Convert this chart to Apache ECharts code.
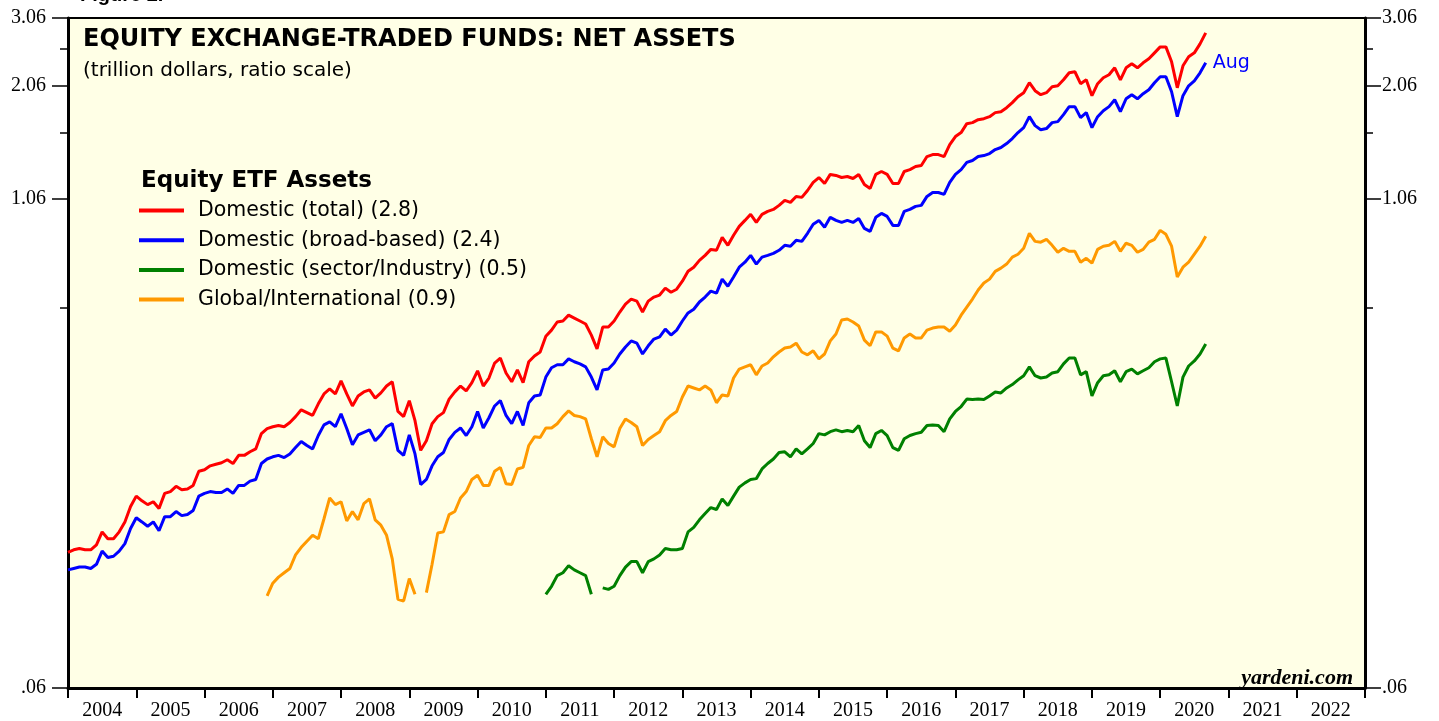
<!DOCTYPE html>
<html lang="en">
<head>
    <meta charset="UTF-8">
    <title>Equity ETF net assets</title>
    <style>
        html, body { margin: 0; padding: 0; background: #fff; }
    </style>
</head>
<body>
<div id="main" style="width: 1439px;height:721px;"></div>
<script src="https://cdn.jsdelivr.net/npm/echarts@6.0.0/dist/echarts.min.js"></script>
<script>
    // monthly, month-end values, first point = Dec 2003, last = Aug 2020 (trillion $)
    var firstMonth = 2004;          // Dec 2003 month-end sits on the 2004 boundary
    var years = [2004, 2005, 2006, 2007, 2008, 2009, 2010, 2011, 2012, 2013,
                 2014, 2015, 2016, 2017, 2018, 2019, 2020, 2021, 2022];
    var yLabels = [0.06, 1.06, 2.06, 3.06];
    var yMinorTicks = [0.56, 1.56, 2.56];

    var domesticTotal = [
        0.133,0.135,0.136,0.135,0.135,0.139,0.150,0.144,0.144,0.150,0.159,0.174,
        0.185,0.180,0.176,0.179,0.172,0.188,0.190,0.196,0.192,0.193,0.197,0.214,
        0.216,0.221,0.223,0.225,0.229,0.224,0.235,0.235,0.240,0.244,0.267,0.275,
        0.278,0.280,0.278,0.285,0.295,0.307,0.302,0.297,0.318,0.337,0.347,0.337,
        0.364,0.337,0.314,0.333,0.341,0.345,0.329,0.339,0.353,0.362,0.304,0.295,
        0.324,0.288,0.242,0.256,0.283,0.295,0.302,0.327,0.341,0.353,0.343,0.360,
        0.386,0.353,0.370,0.404,0.416,0.381,0.362,0.388,0.360,0.407,0.421,0.431,
        0.473,0.490,0.514,0.517,0.535,0.526,0.517,0.508,0.476,0.439,0.499,0.499,
        0.517,0.545,0.571,0.588,0.581,0.545,0.581,0.595,0.602,0.627,0.612,0.623,
        0.653,0.692,0.709,0.738,0.760,0.787,0.783,0.845,0.806,0.855,0.901,0.933,
        0.967,0.922,0.967,0.984,0.995,1.019,1.049,1.037,1.074,1.068,1.112,1.166,
        1.200,1.159,1.222,1.215,1.200,1.207,1.193,1.222,1.152,1.125,1.222,1.243,
        1.222,1.159,1.159,1.243,1.257,1.280,1.288,1.357,1.373,1.373,1.357,1.456,
        1.526,1.562,1.646,1.656,1.685,1.695,1.715,1.756,1.766,1.808,1.862,1.928,
        1.974,2.093,1.997,1.951,1.974,2.044,2.056,2.129,2.219,2.232,2.081,2.129,
        1.940,2.081,2.155,2.193,2.285,2.129,2.285,2.339,2.285,2.353,2.408,2.494,
        2.583,2.583,2.366,2.032,2.312,2.437,2.494,2.629,2.804
    ];
    var domesticBroad = [
        0.120,0.121,0.122,0.122,0.121,0.124,0.134,0.129,0.130,0.134,0.140,0.153,
        0.163,0.159,0.155,0.159,0.151,0.164,0.164,0.169,0.165,0.166,0.170,0.185,
        0.188,0.190,0.189,0.189,0.193,0.188,0.197,0.197,0.202,0.204,0.224,0.230,
        0.233,0.235,0.232,0.237,0.246,0.255,0.249,0.244,0.264,0.281,0.286,0.278,
        0.300,0.275,0.250,0.265,0.269,0.273,0.256,0.265,0.278,0.283,0.242,0.235,
        0.265,0.237,0.198,0.204,0.221,0.233,0.239,0.258,0.269,0.276,0.264,0.278,
        0.304,0.276,0.293,0.314,0.324,0.297,0.283,0.304,0.280,0.320,0.333,0.335,
        0.372,0.393,0.400,0.400,0.414,0.407,0.402,0.395,0.372,0.345,0.388,0.390,
        0.404,0.426,0.444,0.460,0.454,0.426,0.447,0.465,0.471,0.493,0.476,0.490,
        0.517,0.542,0.554,0.578,0.595,0.616,0.609,0.661,0.634,0.669,0.709,0.730,
        0.760,0.722,0.752,0.760,0.769,0.783,0.806,0.802,0.830,0.825,0.865,0.912,
        0.933,0.896,0.950,0.933,0.922,0.933,0.922,0.944,0.890,0.875,0.950,0.972,
        0.955,0.906,0.906,0.984,0.995,1.013,1.019,1.074,1.099,1.099,1.087,1.166,
        1.222,1.257,1.311,1.326,1.357,1.365,1.381,1.414,1.431,1.465,1.508,1.562,
        1.608,1.715,1.627,1.589,1.599,1.656,1.666,1.736,1.819,1.819,1.705,1.756,
        1.608,1.715,1.776,1.819,1.894,1.766,1.905,1.951,1.905,1.962,2.008,2.093,
        2.168,2.168,1.985,1.715,1.940,2.056,2.117,2.219,2.353
    ];
    // sector/industry starts Dec 2010, null = below the chart's floor
    var sectorStart = 84;
    var domesticSector = [
        0.104,0.109,0.116,0.118,0.123,0.120,0.118,0.116,0.104,null,0.108,0.107,
        0.109,0.116,0.122,0.126,0.126,0.118,0.126,0.128,0.131,0.136,0.135,0.135,
        0.136,0.150,0.154,0.161,0.167,0.173,0.171,0.182,0.175,0.185,0.195,0.200,
        0.204,0.205,0.217,0.224,0.230,0.239,0.240,0.233,0.244,0.237,0.244,0.252,
        0.267,0.265,0.270,0.273,0.270,0.272,0.270,0.280,0.256,0.246,0.267,0.272,
        0.264,0.246,0.242,0.259,0.264,0.267,0.269,0.280,0.281,0.280,0.270,0.291,
        0.304,0.313,0.327,0.326,0.327,0.326,0.333,0.341,0.339,0.349,0.356,0.366,
        0.375,0.395,0.375,0.370,0.372,0.381,0.384,0.402,0.416,0.416,0.377,0.384,
        0.333,0.360,0.375,0.377,0.386,0.362,0.384,0.390,0.379,0.386,0.393,0.407,
        0.414,0.416,0.362,0.314,0.372,0.397,0.409,0.426,0.452
    ];
    // global/international starts Nov 2006
    var globalStart = 35;
    var globalIntl = [
        0.103,
        0.111,0.115,0.118,0.121,0.131,0.137,0.142,0.147,0.144,0.162,0.183,0.176,
        0.179,0.160,0.169,0.161,0.177,0.182,0.161,0.156,0.147,0.128,0.101,0.100,
        0.114,0.104,null,0.105,0.124,0.149,0.150,0.166,0.169,0.183,0.190,0.204,
        0.209,0.197,0.197,0.214,0.219,0.199,0.198,0.217,0.219,0.249,0.262,0.261,
        0.276,0.276,0.283,0.295,0.305,0.297,0.295,0.291,0.259,0.233,0.262,0.252,
        0.247,0.275,0.291,0.285,0.278,0.249,0.258,0.264,0.270,0.288,0.297,0.304,
        0.331,0.353,0.349,0.345,0.353,0.345,0.320,0.335,0.333,0.370,0.390,0.395,
        0.400,0.377,0.397,0.404,0.419,0.431,0.441,0.444,0.454,0.431,0.424,0.434,
        0.414,0.426,0.460,0.479,0.520,0.523,0.514,0.502,0.462,0.447,0.485,0.485,
        0.473,0.441,0.434,0.468,0.479,0.468,0.468,0.490,0.496,0.499,0.499,0.487,
        0.505,0.535,0.561,0.588,0.620,0.646,0.661,0.692,0.705,0.722,0.752,0.765,
        0.792,0.865,0.825,0.821,0.835,0.806,0.774,0.792,0.778,0.778,0.730,0.747,
        0.726,0.787,0.802,0.806,0.825,0.778,0.816,0.806,0.774,0.787,0.821,0.835,
        0.880,0.860,0.802,0.669,0.709,0.730,0.765,0.802,0.850
    ];

    // ratio scale: plot natural logs on a value axis
    function toPoints(values, startIndex) {
        var pts = [];
        for (var k = 0; k < values.length; k++) {
            var v = values[k];
            pts.push([firstMonth + (startIndex + k) / 12, v == null ? null : Math.log(v)]);
        }
        return pts;
    }
    function logs(arr) {
        return arr.map(function (v) { return Math.log(v); });
    }

    var yearTicks = years.concat([years[years.length - 1] + 1]);
    var yearLabelPos = years.map(function (y) { return y + 0.5; });

    var yMin = Math.log(yLabels[0]);
    var yMax = Math.log(yLabels[yLabels.length - 1]);

    function yFormat(v) {
        var t = Math.exp(v).toFixed(2);
        return t.charAt(0) === '0' ? t.slice(1) : t;
    }

    function yAxisDef(pos, minor) {
        return {
            type: 'value',
            position: pos,
            min: yMin,
            max: yMax,
            splitLine: {show: false},
            axisLine: {show: !minor, onZero: false, lineStyle: {color: '#000', width: 3}},
            axisTick: {
                show: true,
                length: minor ? 8 : 16,
                lineStyle: {color: '#000', width: 1.5},
                customValues: logs(minor ? yMinorTicks : yLabels)
            },
            axisLabel: {
                show: !minor,
                customValues: logs(yLabels),
                formatter: yFormat,
                margin: pos === 'left' ? 22 : 17,
                color: '#000',
                fontFamily: 'Liberation Serif',
                fontSize: 20
            }
        };
    }

    var myChart = echarts.init(document.getElementById('main'));
    var lineW = 3;
    var option = {
        backgroundColor: '#fff',
        animation: false,
        title: [
            {
                text: 'EQUITY EXCHANGE-TRADED FUNDS: NET ASSETS',
                subtext: '(trillion dollars, ratio scale)',
                left: 83,
                top: 28,
                padding: 0,
                itemGap: 9,
                textStyle: {fontFamily: 'DejaVu Sans', fontWeight: 'bold', fontSize: 24, color: '#000'},
                subtextStyle: {fontFamily: 'DejaVu Sans', fontSize: 20, color: '#000'}
            },
            {
                text: 'Equity ETF Assets',
                left: 141,
                top: 170,
                padding: 0,
                textStyle: {fontFamily: 'DejaVu Sans', fontWeight: 'bold', fontSize: 23, color: '#000'}
            }
        ],
        legend: {
            orient: 'vertical',
            left: 139,
            top: 200,
            padding: 0,
            itemWidth: 45,
            itemHeight: 4,
            itemGap: 8.7,
            icon: 'rect',
            textStyle: {fontFamily: 'DejaVu Sans', fontSize: 20.5, color: '#000', padding: [0, 0, 0, 9]},
            data: ['Domestic (total) (2.8)', 'Domestic (broad-based) (2.4)',
                   'Domestic (sector/Industry) (0.5)', 'Global/International (0.9)']
        },
        graphic: [
            {
                type: 'text', x: 80, y: -15,
                style: {text: 'Figure 2.', font: 'bold 20px "Liberation Sans"', fill: '#000', verticalAlign: 'top'}
            },
            {
                type: 'text', x: 1353, y: 689, z: 10,
                style: {text: 'yardeni.com', font: 'italic bold 22px "Liberation Serif"', fill: '#000',
                        align: 'right', verticalAlign: 'bottom'}
            }
        ],
        grid: {
            left: 68, right: 74, top: 18, bottom: 31,
            show: true,
            backgroundColor: '#ffffe6',
            borderColor: '#000',
            borderWidth: 2
        },
        xAxis: {
            type: 'value',
            min: yearTicks[0],
            max: yearTicks[yearTicks.length - 1],
            splitLine: {show: false},
            axisLine: {onZero: false, lineStyle: {color: '#000', width: 3}},
            axisTick: {
                length: 10,
                lineStyle: {color: '#000', width: 2},
                customValues: yearTicks
            },
            axisLabel: {
                customValues: yearLabelPos,
                formatter: function (v) { return String(Math.floor(v)); },
                margin: 13,
                color: '#000',
                fontFamily: 'Liberation Serif',
                fontSize: 20
            }
        },
        yAxis: [
            yAxisDef('left', false),
            yAxisDef('left', true),
            yAxisDef('right', false),
            yAxisDef('right', true)
        ],
        series: [
            {
                name: 'Domestic (total) (2.8)',
                type: 'line',
                showSymbol: false,
                symbol: 'none',
                color: '#ff0000',
                lineStyle: {width: lineW, color: '#ff0000'},
                data: toPoints(domesticTotal, 0)
            },
            {
                name: 'Domestic (broad-based) (2.4)',
                type: 'line',
                showSymbol: false,
                symbol: 'none',
                color: '#0000ff',
                lineStyle: {width: lineW, color: '#0000ff'},
                endLabel: {
                    show: true,
                    formatter: 'Aug',
                    color: '#0000ff',
                    fontFamily: 'DejaVu Sans',
                    fontSize: 19,
                    distance: 7
                },
                data: toPoints(domesticBroad, 0)
            },
            {
                name: 'Domestic (sector/Industry) (0.5)',
                type: 'line',
                showSymbol: false,
                symbol: 'none',
                color: '#008000',
                lineStyle: {width: lineW, color: '#008000'},
                data: toPoints(domesticSector, sectorStart)
            },
            {
                name: 'Global/International (0.9)',
                type: 'line',
                showSymbol: false,
                symbol: 'none',
                color: '#ff9900',
                lineStyle: {width: lineW, color: '#ff9900'},
                data: toPoints(globalIntl, globalStart)
            }
        ]
    };
    myChart.setOption(option);
</script>
</body>
</html>
